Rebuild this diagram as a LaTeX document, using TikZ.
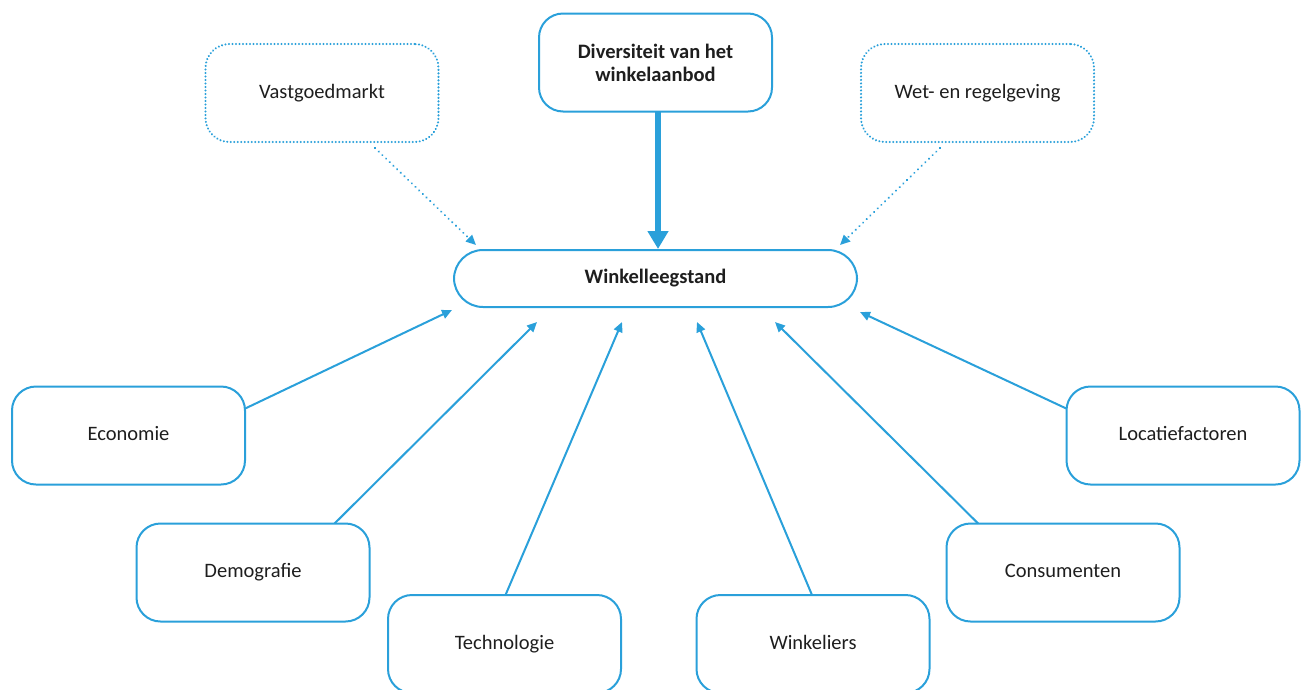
\documentclass[tikz,border=0pt]{standalone}
\usepackage{fontspec}
\setmainfont{Carlito}
\usetikzlibrary{arrows.meta}
\definecolor{kblue}{RGB}{42,160,218}
\definecolor{ktext}{RGB}{30,30,30}
\begin{document}
\begin{tikzpicture}[x=1pt,y=-1pt,
  box/.style={draw=kblue, line width=2pt, rounded corners=24pt, minimum width=233pt, minimum height=98pt,
    align=center, font=\fontsize{20.5}{23}\selectfont, text=ktext, inner sep=0pt, outer sep=0pt},
  sbox/.style={box, text height=14pt, text depth=4pt},
  dotbox/.style={sbox, dash pattern=on 0.1pt off 3.4pt, line cap=round, line width=2.2pt},
  centerbox/.style={draw=kblue, line width=2pt, rounded corners=29pt, minimum width=403pt, minimum height=57pt,
    font=\bfseries\fontsize{20.5}{23}\selectfont, text=ktext, inner sep=0pt, outer sep=0pt},
  arr/.style={draw=kblue, line width=2pt, -{Triangle[length=10pt,width=9pt]}},
  dotarr/.style={arr, dash pattern=on 0.1pt off 5pt, line cap=round, line width=2.2pt},
  thickarr/.style={draw=kblue, line width=5.5pt, -{Triangle[length=18pt,width=20pt]}}
]
\useasboundingbox (0,0) rectangle (1308,689);
\node[dotbox] (vast) at (322,93) {Vastgoedmarkt};
\node[box, font=\bfseries\fontsize{20.5}{23}\selectfont] (div) at (655.5,62.5) {Diversiteit van het\\winkelaanbod};
\node[dotbox] (wet) at (977.5,93) {Wet- en regelgeving};
\node[centerbox] (wl) at (655.5,278.5) {Winkelleegstand};
\node[sbox] (eco) at (128.5,435.5) {Economie};
\node[sbox] (loc) at (1183,435.5) {Locatiefactoren};
\node[sbox] (dem) at (253,572.5) {Demografie};
\node[sbox] (con) at (1063,572.5) {Consumenten};
\node[sbox] (tec) at (504.5,644) {Technologie};
\node[sbox] (win) at (813,644) {Winkeliers};

\coordinate (vend) at (476,245);
\coordinate (wend) at (840,245);
\coordinate (dend) at (658,249);
\coordinate (e1) at (452,310);
\coordinate (e2) at (537,322);
\coordinate (e3) at (622,322);
\coordinate (e4) at (697,322);
\coordinate (e5) at (775,322);
\coordinate (e6) at (860,312);
\coordinate (vs) at (375,148);
\coordinate (ws) at (940,148);
\coordinate (ds) at (658,112);

\draw[dotarr] (vs) -- (vend);
\draw[dotarr] (ws) -- (wend);
\draw[thickarr] (ds) -- (dend);
\draw[arr] (eco.13) -- (e1);
\draw[arr] (dem.31) -- (e2);
\draw[arr] ([xshift=1pt]tec.north) -- (e3);
\draw[arr] ([xshift=-1pt]win.north) -- (e4);
\draw[arr] (con.150) -- (e5);
\draw[arr] (loc.167) -- (e6);
\end{tikzpicture}
\end{document}
